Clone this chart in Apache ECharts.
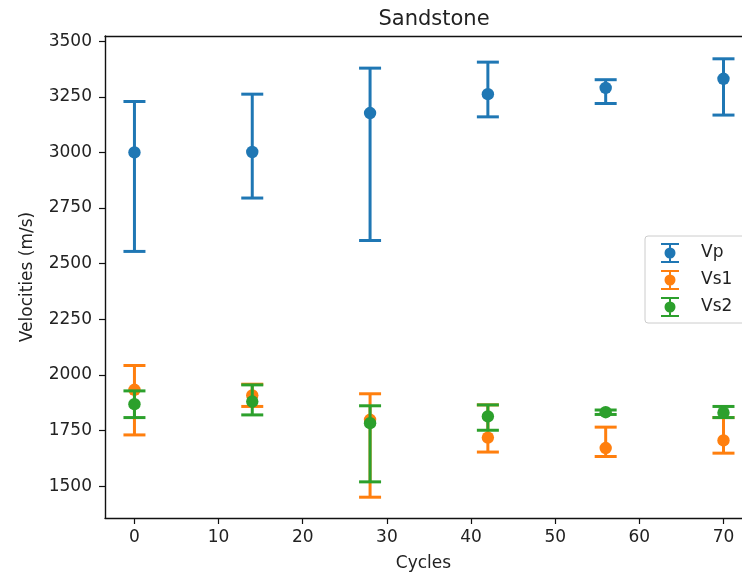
<!DOCTYPE html>
<html>
<head>
<meta charset="utf-8">
<script src="https://cdn.jsdelivr.net/npm/echarts@6/dist/echarts.min.js"></script>
<style>
  html, body { margin: 0; padding: 0; background: #fff; }
  #chart { width: 742px; height: 577px; }
</style>
</head>
<body>
<div id="chart"></div>
<script>
const cycles = [0, 14, 28, 42, 56, 70]

const vp = [3000, 3002, 3177, 3262, 3290, 3331]
const vpLow = [2555, 2795, 2604, 3160, 3220, 3168]
const vpHigh = [3229, 3262, 3379, 3406, 3327, 3421]

const vs1 = [1933, 1908, 1798, 1718, 1671, 1705]
const vs1Low = [1730, 1858, 1450, 1653, 1633, 1648]
const vs1High = [2042, 1958, 1915, 1865, 1765, 1808]

const vs2 = [1868, 1880, 1783, 1813, 1832, 1830]
const vs2Low = [1808, 1820, 1519, 1751, 1822, 1808]
const vs2High = [1928, 1955, 1861, 1865, 1842, 1858]

const xTicks = [0, 10, 20, 30, 40, 50, 60, 70]
const yTicks = [1500, 1750, 2000, 2250, 2500, 2750, 3000, 3250, 3500]

const font = 'DejaVu Sans'
const textColor = '#222'
const spine = { color: '#111', width: 1.4 }

// errorbar-like legend icon: caps, stem and a dot (20x20 box)
const errIcon = 'path://M1,0H19V2H1Z M9,1H11V19H9Z M1,18H19V20H1Z M10,4.5A5.5,5.5 0 1 1 10,15.5A5.5,5.5 0 1 1 10,4.5Z'

function errorSeries(name, color, mid, low, high) {
  return {
    name,
    type: 'custom',
    itemStyle: { color },
    data: cycles.map((c, i) => [c, mid[i], low[i], high[i]]),
    encode: { x: 0, y: [1, 2, 3] },
    renderItem(params, api) {
      const x = api.value(0)
      const p = api.coord([x, api.value(1)])
      const lo = api.coord([x, api.value(2)])
      const hi = api.coord([x, api.value(3)])
      const cap = 11
      const lineStyle = { stroke: color, lineWidth: 3 }
      return {
        type: 'group',
        children: [
          { type: 'line', shape: { x1: p[0], y1: lo[1], x2: p[0], y2: hi[1] }, style: lineStyle },
          { type: 'line', shape: { x1: p[0] - cap, y1: lo[1], x2: p[0] + cap, y2: lo[1] }, style: lineStyle },
          { type: 'line', shape: { x1: p[0] - cap, y1: hi[1], x2: p[0] + cap, y2: hi[1] }, style: lineStyle },
          { type: 'circle', shape: { cx: p[0], cy: p[1], r: 6.2 }, style: { fill: color } }
        ]
      }
    }
  }
}

const chart = echarts.init(document.getElementById('chart'))

chart.setOption({
  backgroundColor: '#fff',
  animation: false,
  title: {
    text: 'Sandstone',
    left: 429,
    top: 4,
    textAlign: 'center',
    textStyle: { fontFamily: font, fontSize: 21, fontWeight: 'normal', color: textColor }
  },
  legend: {
    orient: 'vertical',
    left: 645,
    top: 236,
    padding: [7, 16, 6, 16],
    itemWidth: 20,
    itemHeight: 20,
    itemGap: 7,
    icon: errIcon,
    borderColor: '#ccc',
    borderWidth: 1,
    borderRadius: 3,
    backgroundColor: 'rgba(255,255,255,0.8)',
    textStyle: { fontFamily: font, fontSize: 17, color: textColor, padding: [0, 0, 0, 16] },
    data: ['Vp', 'Vs1', 'Vs2']
  },
  grid: {
    left: 105,
    top: 36,
    right: 0,
    bottom: 57
  },
  xAxis: [
    {
      type: 'value',
      min: -3.5,
      max: 72.2,
      name: 'Cycles',
      nameLocation: 'middle',
      nameGap: 37,
      nameTextStyle: { fontFamily: font, fontSize: 17, color: textColor },
      axisLine: { show: true, onZero: false, lineStyle: spine },
      splitLine: { show: false },
      axisTick: { show: true, length: 6, lineStyle: { color: '#111', width: 1.2 }, customValues: xTicks },
      axisLabel: { fontFamily: font, fontSize: 17, color: textColor, margin: 11, customValues: xTicks }
    },
    {
      // top spine only
      type: 'value',
      position: 'top',
      min: -3.5,
      max: 72.2,
      axisLine: { show: true, onZero: false, lineStyle: spine },
      axisTick: { show: false },
      axisLabel: { show: false },
      splitLine: { show: false }
    }
  ],
  yAxis: {
    type: 'value',
    min: 1356.5,
    max: 3523.5,
    name: 'Velocities (m/s)',
    nameLocation: 'middle',
    nameGap: 69,
    nameTextStyle: { fontFamily: font, fontSize: 17, color: textColor },
    axisLine: { show: true, onZero: false, lineStyle: spine },
    splitLine: { show: false },
    axisTick: { show: true, length: 6, lineStyle: { color: '#111', width: 1.2 }, customValues: yTicks },
    axisLabel: {
      fontFamily: font, fontSize: 17, color: textColor, margin: 13,
      customValues: yTicks,
      formatter: v => String(v)
    }
  },
  series: [
    errorSeries('Vp', '#1f77b4', vp, vpLow, vpHigh),
    errorSeries('Vs1', '#ff7f0e', vs1, vs1Low, vs1High),
    errorSeries('Vs2', '#2ca02c', vs2, vs2Low, vs2High)
  ]
})
</script>
</body>
</html>
